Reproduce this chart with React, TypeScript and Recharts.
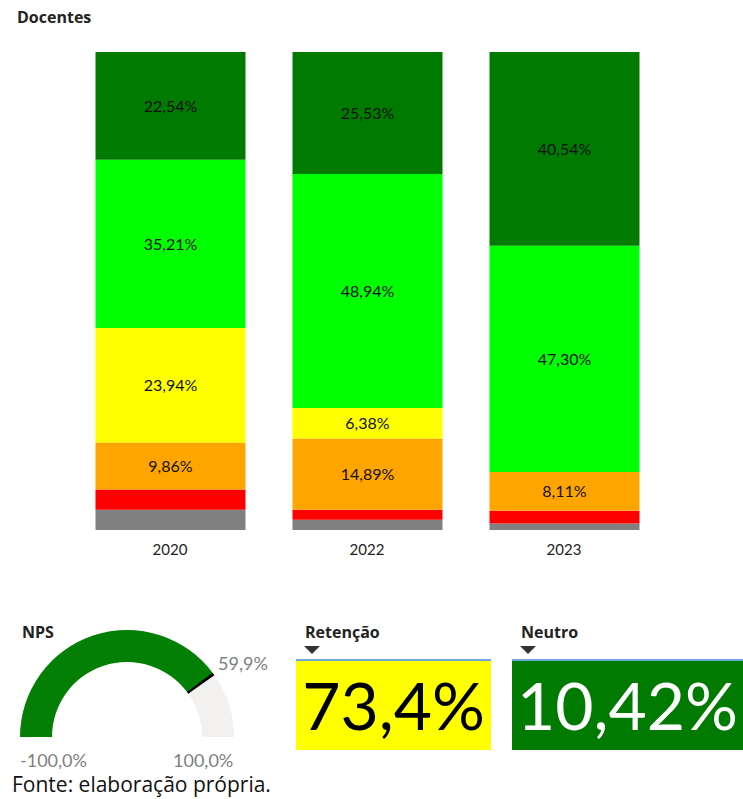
import { BarChart, Bar, XAxis, YAxis, LabelList, PieChart, Pie, Cell } from "recharts";

// categories
const years = ["2020", "2022", "2023"];

// series values (%), bottom of the stack is "semResposta"
const muitoSatisfeito = [22.54, 25.53, 40.54];
const satisfeito = [35.21, 48.94, 47.3];
const neutro = [23.94, 6.38, 0];
const insatisfeito = [9.86, 14.89, 8.11];
const muitoInsatisfeito = [4.23, 2.13, 2.7];
const semResposta = [4.23, 2.13, 1.35];

// gauge + cards
const npsValue = 59.9;
const npsMin = -100;
const npsMax = 100;
const retencao = 73.4;
const neutroTotal = 10.42;

const data = years.map((year, i) => ({
  year,
  semResposta: semResposta[i],
  muitoInsatisfeito: muitoInsatisfeito[i],
  insatisfeito: insatisfeito[i],
  neutro: neutro[i],
  satisfeito: satisfeito[i],
  muitoSatisfeito: muitoSatisfeito[i],
}));

const series = [
  { key: "semResposta", color: "#808080", label: false },
  { key: "muitoInsatisfeito", color: "#ff0000", label: false },
  { key: "insatisfeito", color: "#ffa500", label: true },
  { key: "neutro", color: "#ffff00", label: true },
  { key: "satisfeito", color: "#00ff00", label: true },
  { key: "muitoSatisfeito", color: "#007a00", label: true },
];

const gaugeData = [
  { name: "valor", value: npsValue - npsMin },
  { name: "resto", value: npsMax - npsValue },
];
const markerWidth = 1.8;
const markerData = [
  { name: "a", value: npsValue - npsMin - markerWidth / 2 },
  { name: "m", value: markerWidth },
  { name: "b", value: npsMax - npsValue - markerWidth / 2 },
];

const fmt = (v: number, d: number) => v.toFixed(d).replace(".", ",") + "%";

const FONT = "Lato, 'Open Sans', sans-serif";
const TITLE_FONT = "'Open Sans', sans-serif";

const Triangle = ({ left }: { left: number }) => (
  <svg style={{ position: "absolute", left, top: 646 }} width={16} height={9}>
    <polygon points="0,0 16,0 8,8" fill="#333" />
  </svg>
);

const titleStyle = (left: number, top: number) => ({
  position: "absolute" as const,
  left,
  top,
  fontSize: 16,
  fontWeight: 700,
  color: "#222",
  fontFamily: TITLE_FONT,
});

const gaugeLabel = (left: number, top: number) => ({
  position: "absolute" as const,
  left,
  top,
  fontSize: 18,
  lineHeight: "18px",
  color: "#7f7f7f",
});

export default function App() {
  return (
    <div style={{ position: "absolute", left: 0, top: 0, width: 743, height: 799, background: "#fff", fontFamily: FONT }}>
      <div style={titleStyle(17, 6)}>Docentes</div>

      <BarChart
        width={743}
        height={570}
        data={data}
        margin={{ top: 52, right: 80.5, left: 71.5, bottom: 10 }}
      >
        <XAxis
          dataKey="year"
          axisLine={false}
          tickLine={false}
          height={30}
          tick={{ fill: "#222", fontSize: 15, fontFamily: FONT }}
          dy={6}
        />
        <YAxis hide domain={[0, 100]} />
        {series.map((s) => (
          <Bar
            key={s.key}
            dataKey={s.key}
            stackId="a"
            fill={s.color}
            barSize={150}
            isAnimationActive={false}
          >
            {s.label && (
              <LabelList
                dataKey={s.key}
                position="center"
                fill="#111"
                fontSize={16}
                fontFamily={FONT}
                formatter={(v: any) => (v > 0 ? fmt(Number(v), 2) : "")}
              />
            )}
          </Bar>
        ))}
      </BarChart>

      {/* NPS gauge */}
      <div style={titleStyle(22, 621)}>NPS</div>
      <div style={{ position: "absolute", left: 0, top: 610 }}>
        <PieChart width={260} height={140} margin={{ top: 0, right: 0, bottom: 0, left: 0 }}>
          <Pie
            data={gaugeData}
            dataKey="value"
            cx={127}
            cy={127}
            startAngle={180}
            endAngle={0}
            innerRadius={75}
            outerRadius={107}
            stroke="none"
            isAnimationActive={false}
          >
            <Cell fill="#038003" />
            <Cell fill="#f2f1f0" />
          </Pie>
          <Pie
            data={markerData}
            dataKey="value"
            cx={127}
            cy={127}
            startAngle={180}
            endAngle={0}
            innerRadius={75}
            outerRadius={107}
            stroke="none"
            isAnimationActive={false}
          >
            <Cell fill="transparent" />
            <Cell fill="#000" />
            <Cell fill="transparent" />
          </Pie>
        </PieChart>
      </div>
      <div style={gaugeLabel(218, 654)}>{fmt(npsValue, 1)}</div>
      <div style={gaugeLabel(20, 751)}>{fmt(npsMin, 1)}</div>
      <div style={gaugeLabel(173, 751)}>{fmt(npsMax, 1)}</div>
      <div style={{ position: "absolute", left: 12, top: 773, fontSize: 21, lineHeight: "22px", color: "#111", fontFamily: TITLE_FONT }}>
        Fonte: elaboração própria.
      </div>

      {/* Retenção card */}
      <div style={titleStyle(305, 621)}>Retenção</div>
      <Triangle left={304} />
      <div
        style={{
          position: "absolute", left: 296, top: 659, width: 195, height: 91,
          background: "#ffff00", borderTop: "2px solid #6fa8dc", boxSizing: "border-box",
          fontSize: 66, color: "#000", lineHeight: "88px", textAlign: "center",
        }}
      >
        {fmt(retencao, 1)}
      </div>

      {/* Neutro card */}
      <div style={titleStyle(521, 621)}>Neutro</div>
      <Triangle left={520} />
      <div
        style={{
          position: "absolute", left: 512, top: 659, width: 231, height: 91,
          background: "#007a00", borderTop: "2px solid #6fa8dc", boxSizing: "border-box",
          fontSize: 66, color: "#fff", lineHeight: "88px", textAlign: "center",
        }}
      >
        {fmt(neutroTotal, 2)}
      </div>
    </div>
  );
}
